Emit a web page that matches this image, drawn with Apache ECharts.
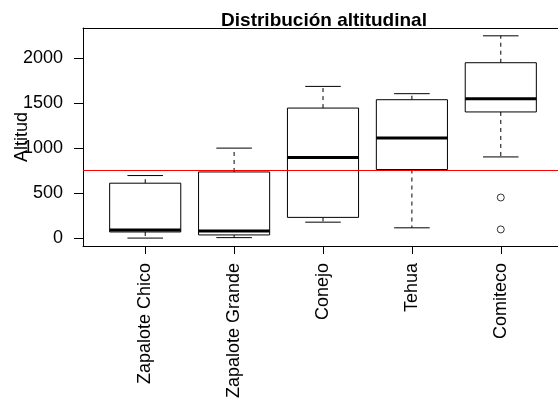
<!DOCTYPE html>
<html>
<head>
<meta charset="utf-8">
<title>Distribución altitudinal</title>
<script src="https://cdn.jsdelivr.net/npm/echarts@6/dist/echarts.min.js"></script>
<style>
  html, body { margin: 0; padding: 0; background: #fff; }
  #chart { width: 558px; height: 400px; }
</style>
</head>
<body>
<div id="chart"></div>
<script>
// sitios y resumen de cinco números de la altitud
const sites = ['Zapalote Chico', 'Zapalote Grande', 'Conejo', 'Tehua', 'Comiteco']
const whiskerLow = [0, 5, 177, 114, 902]
const q1 = [68, 35, 230, 762, 1402]
const median = [90, 78, 897, 1113, 1550]
const q3 = [610, 735, 1445, 1538, 1949]
const whiskerHigh = [695, 1000, 1686, 1605, 2248]

// valores atípicos (posición del sitio, altitud)
const outlierSite = [5, 5]
const outlierValue = [451, 96]

const referenceLine = 750
const yTicks = [0, 500, 1000, 1500, 2000]
const sitePositions = [1, 2, 3, 4, 5]

const FONT = '"Liberation Sans", Arial, Helvetica, sans-serif'

const boxData = sites.map((s, i) => [sitePositions[i], whiskerLow[i], q1[i], median[i], q3[i], whiskerHigh[i]])
const outlierData = outlierSite.map((s, i) => [s, outlierValue[i]])

function renderBox(params, api) {
  const x = api.value(0)
  const lo = api.coord([x, api.value(1)])
  const b1 = api.coord([x, api.value(2)])
  const md = api.coord([x, api.value(3)])
  const b3 = api.coord([x, api.value(4)])
  const hi = api.coord([x, api.value(5)])
  const half = api.size([0.8, 0])[0] / 2
  const staple = half / 2
  const cx = lo[0]
  const line = (x1, y1, x2, y2, style) => ({
    type: 'line',
    shape: { x1, y1, x2, y2 },
    style: Object.assign({ stroke: '#000', lineWidth: 1 }, style)
  })
  return {
    type: 'group',
    children: [
      line(cx, b1[1], cx, lo[1], { lineDash: [4, 4] }),
      line(cx, b3[1], cx, hi[1], { lineDash: [4, 4] }),
      line(cx - staple, lo[1], cx + staple, lo[1]),
      line(cx - staple, hi[1], cx + staple, hi[1]),
      {
        type: 'rect',
        shape: { x: cx - half, y: b3[1], width: half * 2, height: b1[1] - b3[1] },
        style: { fill: '#fff', stroke: '#000', lineWidth: 1 }
      },
      line(cx - half, md[1], cx + half, md[1], { lineWidth: 3 })
    ]
  }
}

const chart = echarts.init(document.getElementById('chart'), null, { renderer: 'canvas' })

const axisLine = { show: true, onZero: false, lineStyle: { color: '#000', width: 1 } }

const option = {
  animation: false,
  backgroundColor: '#fff',
  title: {
    text: 'Distribución altitudinal',
    left: 324,
    textAlign: 'center',
    top: 11,
    padding: 0,
    textStyle: { fontFamily: FONT, fontSize: 19, fontWeight: 'bold', color: '#000' }
  },
  grid: {
    left: 83,
    right: -5,
    top: 28,
    bottom: 154,
    containLabel: false,
    outerBoundsMode: 'none',
    show: false
  },
  xAxis: [
    {
      type: 'value',
      min: 0.3,
      max: 5.7,
      splitLine: { show: false },
      axisLine: axisLine,
      axisTick: {
        show: true,
        length: 8,
        customValues: sitePositions,
        lineStyle: { color: '#000' }
      },
      axisLabel: {
        customValues: sitePositions,
        rotate: 90,
        margin: 17,
        fontFamily: FONT,
        fontSize: 18,
        color: '#000',
        formatter: v => sites[Math.round(v) - 1] || ''
      }
    },
    {
      // borde superior del área de trazado
      type: 'value',
      position: 'top',
      min: 0.3,
      max: 5.7,
      splitLine: { show: false },
      axisLine: axisLine,
      axisTick: { show: false },
      axisLabel: { show: false }
    }
  ],
  yAxis: {
    type: 'value',
    min: -88,
    max: 2335,
    name: 'Altitud',
    nameLocation: 'middle',
    nameRotate: 90,
    nameGap: 52,
    nameMoveOverlap: false,
    nameTextStyle: { fontFamily: FONT, fontSize: 18, color: '#000' },
    splitLine: { show: false },
    axisLine: axisLine,
    axisTick: {
      show: true,
      length: 9,
      customValues: yTicks,
      lineStyle: { color: '#000' }
    },
    axisLabel: {
      customValues: yTicks,
      margin: 20,
      fontFamily: FONT,
      fontSize: 18,
      color: '#000',
      formatter: v => String(v)
    }
  },
  series: [
    {
      type: 'custom',
      name: 'Altitud',
      data: boxData,
      encode: { x: 0, y: [1, 2, 3, 4, 5] },
      renderItem: renderBox,
      silent: true
    },
    {
      type: 'scatter',
      data: outlierData,
      symbol: 'circle',
      symbolSize: 7,
      itemStyle: { color: 'transparent', borderColor: '#000', borderWidth: 1 },
      silent: true,
      markLine: {
        silent: true,
        symbol: 'none',
        label: { show: false },
        lineStyle: { color: '#ff0000', width: 1, type: 'solid' },
        data: [{ yAxis: referenceLine }]
      }
    }
  ]
}

chart.setOption(option)
</script>
</body>
</html>
